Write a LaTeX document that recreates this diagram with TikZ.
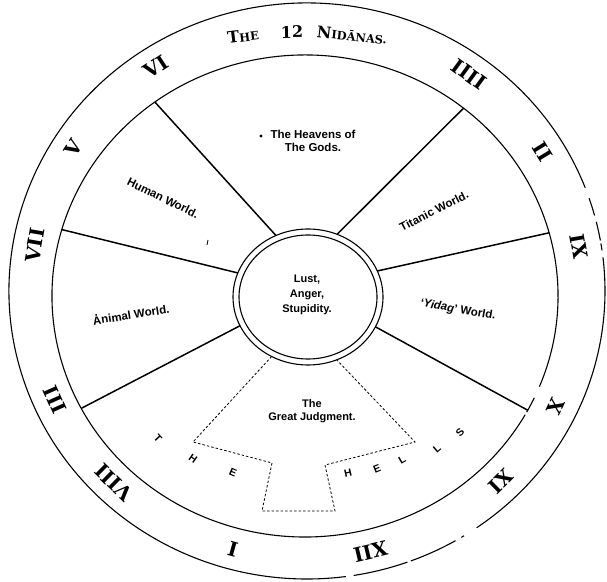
\documentclass[tikz,border=0pt]{standalone}
\usepackage{fontspec}
\usepackage{tikz}
\newfontfamily\numfont{DejaVu Serif}
\newfontfamily\lblfont{Liberation Sans}
\newcommand\smcap[1]{{\fontsize{11.5}{11.5}\selectfont #1}}
\newcommand\dotA{\makebox[0pt][l]{\kern0.22em\raisebox{0.74em}{.}}A}

\begin{document}
\begin{tikzpicture}[x=1pt,y=1pt,
  rim/.style={line width=1.1pt},
  spoke/.style={line width=1.5pt},
  judg/.style={line width=0.8pt,dash pattern=on 2.5pt off 2pt},
  numeral/.style={font=\numfont\bfseries\fontsize{20}{20}\selectfont,inner sep=0pt},
  ttl/.style={font=\numfont\bfseries\fontsize{16}{16}\selectfont,inner sep=0pt},
  lbl/.style={font=\lblfont\bfseries\fontsize{11.5}{12.5}\selectfont,align=center,inner sep=0pt},
  hell/.style={font=\lblfont\bfseries\fontsize{10.5}{10.5}\selectfont,inner sep=0pt}]
  \useasboundingbox (0,0) rectangle (607,581);
  \coordinate (c) at (307,290);
  \coordinate (w) at (305,285);
  \coordinate (h) at (308,284);
  % outer rim, broken on the lower right
  \foreach \a/\b in {21/277.5,279/289.7,290.4/299.9,301.2/301.8,304.7/366.7,368.1/369.5,370.1/373.9,375.2/378.8}
     {\draw[rim] ([shift={(\a:298 and 288)}]c) arc[start angle=\a,end angle=\b,x radius=298,y radius=288];}
  \foreach \a/\b in {-22.1/330.5,331.2/335}
     {\draw[rim] ([shift={(\a:253 and 241)}]w) arc[start angle=\a,end angle=\b,x radius=253,y radius=241];}
  \draw[rim] (h) ellipse[x radius=75,y radius=68];
  \draw[rim] (h) ellipse[x radius=69,y radius=62];
  \foreach \a/\b in {126.4/115.3,51.2/67.2,164/159.3,15.2/22.5,207.8/205,-28.3/-26}
     {\draw[spoke] ([shift={(\a:253 and 241)}]w) -- ([shift={(\b:75 and 68)}]h);}
  \coordinate (j1) at ([shift={(241:75 and 68)}]h);
  \coordinate (j8) at ([shift={(292.5:75 and 68)}]h);
  \draw[judg] (j1) -- (193,139) -- (272,118) -- (262,70) -- (335,70) -- (325,116) -- (415,139) -- (j8);
  \foreach \n/\a in {I/254.4,II/31.4,III/204,IIII/54,V/147.7,VI/123.2,VII/170.2,VIII/225.6,IX/9.5,X/-25.5,XI/-45.4,XII/-76.7}
     {\node[numeral,rotate=\a-90] (num\n) at ([shift={(\a:276 and 268)}]c) {\n};}
  \node[ttl,rotate=7] (ttlA) at (243,545) {T\smcap{HE}};
  \node[ttl,rotate=1] (ttlB) at (292,549) {12};
  \node[ttl,rotate=-6] (ttlC) at (352,546) {N\smcap{IDĀNAS.}};
  \node[lbl] (heaven) at (313,440) {The Heavens of\\The Gods.};
  \fill (261,445) circle (1.6);
  \node[lbl,rotate=-26] (human) at (163,383) {Human World.};
  \draw[line width=0.8pt] (207,336) -- (208,341);
  \node[lbl,rotate=27] (titanic) at (434,370) {Titanic World.};
  \node[lbl,rotate=9] (animal) at (131,267) {\dotA nimal World.};
  \node[lbl,rotate=-10] (yidag) at (458,271) {‘\textit{Yidag}’ World.};
  \node[lbl,font=\lblfont\bfseries\fontsize{11}{15}\selectfont] (passions) at (307,286) {Lust,\\Anger,\\Stupidity.};
  \node[lbl,font=\lblfont\bfseries\fontsize{11}{13}\selectfont] (judgment) at (312,170) {The\\Great Judgment.};
  \foreach \l/\x/\y/\r in {T/158/143/-47,H/193/122/-35,E/233/108/-23,H/348/108/13,E/377/112/22,L/402/121/30,L/437/132/40,S/460/149/48}
     {\node[hell,rotate=\r] (hell\x) at (\x,\y) {\l};}
\end{tikzpicture}
\end{document}
